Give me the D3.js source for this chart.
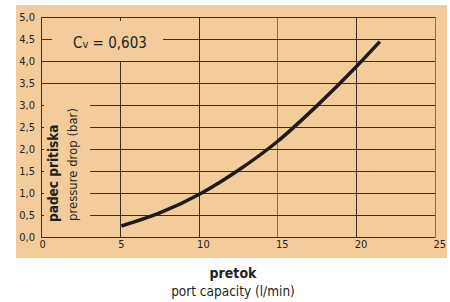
<!DOCTYPE html>
<html>
<head>
<meta charset="utf-8">
<script src="https://cdn.jsdelivr.net/npm/d3@7"></script>
<style>
  body { margin: 0; background: #fff; }
  svg { display: block; }
  text { font-family: "Liberation Sans Narrow", "DejaVu Sans Condensed", "Open Sans", sans-serif; fill: #231f20; }
</style>
</head>
<body>
<svg id="chart" width="450" height="302"></svg>
<script>
// values
var flow = [5.1, 7.5, 10.2, 12.5, 15.0, 17.5, 20.0, 21.5];
var drop = [0.25, 0.54, 1.0, 1.51, 2.17, 2.98, 3.87, 4.44];
var xTicks = [0, 5, 10, 15, 20, 25];
var yTicks = [0, 0.5, 1, 1.5, 2, 2.5, 3, 3.5, 4, 4.5, 5];
var yLabels = ["0,0", "0,5", "1,0", "1,5", "2,0", "2,5", "3,0", "3,5", "4,0", "4,5", "5,0"];

var svg = d3.select("#chart");
var plotL = 41, plotR = 435, plotT = 17, plotB = 237;

var x = d3.scaleLinear().domain([0, 25]).range([plotL, plotR]);
var y = d3.scaleLinear().domain([0, 5]).range([plotB, plotT]);

// background panel
svg.append("rect")
  .attr("x", 16).attr("y", 5)
  .attr("width", 431).attr("height", 253)
  .attr("fill", "#f3cc9b");

var grid = svg.append("g").attr("stroke", "#3a2e24").attr("stroke-width", 1).attr("fill", "none");

// horizontal grid lines (some are interrupted by labels)
yTicks.forEach(function(v) {
  if (v == 0 || v == 5) return;
  var yy = Math.round(y(v)) + 0.5;
  var segs = [];
  if (v == 4.5) { segs = [[plotL, 52], [163, plotR]]; }
  else if (v >= 3.5) { segs = [[plotL, plotR]]; }
  else { segs = [[plotL, 44], [90, plotR]]; }
  segs.forEach(function(s) {
    grid.append("line").attr("x1", s[0]).attr("x2", s[1]).attr("y1", yy).attr("y2", yy);
  });
});

// vertical grid lines
xTicks.forEach(function(v) {
  if (v == 0) return;
  var xx = Math.round(x(v)) + 0.5;
  var op = (v == 15 || v == 25) ? 0.6 : 1;
  if (v == 5) {
    grid.append("line").attr("x1", xx).attr("x2", xx).attr("y1", plotT).attr("y2", plotT + 4);
    grid.append("line").attr("x1", xx).attr("x2", xx).attr("y1", y(4)).attr("y2", plotB);
  } else {
    grid.append("line").attr("x1", xx).attr("x2", xx).attr("y1", plotT).attr("y2", plotB)
      .attr("stroke-opacity", op);
  }
});

// frame: left, top, bottom
grid.append("line").attr("x1", plotL + 0.5).attr("x2", plotL + 0.5).attr("y1", plotT).attr("y2", plotB + 0.5);
grid.append("line").attr("x1", plotL).attr("x2", plotR).attr("y1", plotT + 0.5).attr("y2", plotT + 0.5);
grid.append("line").attr("x1", plotL).attr("x2", plotR + 0.5).attr("y1", plotB + 0.5).attr("y2", plotB + 0.5);

// tick labels
svg.selectAll(".ylab").data(yTicks).enter().append("text")
  .attr("class", "ylab")
  .attr("x", 35)
  .attr("y", function(d) { return y(d) + 4; })
  .attr("text-anchor", "end")
  .attr("font-size", 11)
  .text(function(d, i) { return yLabels[i]; });

svg.selectAll(".xlab").data(xTicks).enter().append("text")
  .attr("class", "xlab")
  .attr("x", function(d) { return x(d) - 1.5; })
  .attr("y", 248)
  .attr("font-size", 11)
  .text(function(d) { return d; });

// curve
var pts = flow.map(function(f, i) { return [f, drop[i]]; });
var line = d3.line()
  .x(function(d) { return x(d[0]); })
  .y(function(d) { return y(d[1]); })
  .curve(d3.curveMonotoneX);

svg.append("path")
  .datum(pts)
  .attr("d", line)
  .attr("fill", "none")
  .attr("stroke", "#1f1b18")
  .attr("stroke-width", 3.5);

// Cv label
var cv = svg.append("text").attr("x", 73).attr("y", 48).attr("font-size", 15);
cv.append("tspan").text("C");
cv.append("tspan").attr("font-size", 11).text("v");
cv.append("tspan").text(" = 0,603");

// y axis title
svg.append("text")
  .attr("transform", "translate(58,222) rotate(-90)")
  .attr("font-size", 13.5).attr("font-weight", "bold")
  .text("padec pritiska");
svg.append("text")
  .attr("transform", "translate(77,221) rotate(-90)")
  .attr("font-size", 13)
  .text("pressure drop (bar)");

// x axis title
svg.append("text")
  .attr("x", 233).attr("y", 278)
  .attr("text-anchor", "middle")
  .attr("font-size", 14).attr("font-weight", "bold")
  .text("pretok");
svg.append("text")
  .attr("x", 233).attr("y", 296)
  .attr("text-anchor", "middle")
  .attr("font-size", 13.5)
  .text("port capacity (l/min)");
</script>
</body>
</html>
